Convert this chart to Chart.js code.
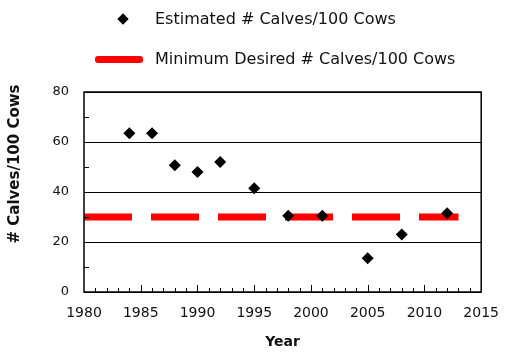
<!DOCTYPE html>
<html>
<head>
<meta charset="utf-8">
<script src="https://cdn.jsdelivr.net/npm/chart.js@4.4.1/dist/chart.umd.min.js"></script>
<style>
    html, body { margin: 0; padding: 0; background: #fff; }
    #wrap { position: relative; width: 512px; height: 352px; }
    #calvesChart { position: absolute; left: 0; top: 0; }
    .legend-item {
        position: absolute;
        left: 155px;
        font-family: "DejaVu Sans", sans-serif;
        font-size: 16px;
        line-height: 20px;
        color: #111;
        white-space: nowrap;
    }
    .diamond {
        position: absolute; left: 119px; top: 15px;
        width: 8px; height: 8px; background: #000;
        transform: rotate(45deg);
    }
    .redline {
        position: absolute; left: 95px; top: 56px;
        width: 48px; height: 7px; background: #f00; border-radius: 3px;
    }
</style>
</head>
<body>
<div id="wrap">
    <canvas id="calvesChart" width="512" height="352"></canvas>
    <div class="diamond"></div>
    <div class="legend-item" style="top: 9px;" id="lbl1"></div>
    <div class="redline"></div>
    <div class="legend-item" style="top: 49px;" id="lbl2"></div>
</div>
<script>
// survey estimates
const surveyYears = [1984, 1986, 1988, 1990, 1992, 1995, 1998, 2001, 2005, 2008, 2012];
const calvesPer100 = [63.5, 63.5, 50.7, 48, 52, 41.5, 30.5, 30.5, 13.5, 23, 31.5];

// minimum desired level
const targetYears = [1980, 2013];
const targetValue = 30;

const estimateLabel = "Estimated # Calves/100 Cows";
const targetLabel = "Minimum Desired # Calves/100 Cows";
const xTitle = "Year";
const yTitle = "# Calves/100 Cows";

document.getElementById("lbl1").textContent = estimateLabel;
document.getElementById("lbl2").textContent = targetLabel;

// box around plot, inward tick marks, rotated y title
const frameAndTicks = {
    id: "frameAndTicks",
    afterDraw(chart) {
        const { ctx, chartArea: a } = chart;
        const x = chart.scales.x;
        const y = chart.scales.y;
        ctx.save();
        ctx.strokeStyle = "#000";
        ctx.lineWidth = 1;
        ctx.beginPath();
        for (let v = x.min + 1; v < x.max; v++) {
            const px = Math.round(x.getPixelForValue(v)) + 0.5;
            const len = v % 5 === 0 ? 7 : 4;
            ctx.moveTo(px, a.bottom);
            ctx.lineTo(px, a.bottom - len);
        }
        for (let v = y.min + 10; v < y.max; v += 20) {
            const py = Math.round(y.getPixelForValue(v)) + 0.5;
            ctx.moveTo(a.left, py);
            ctx.lineTo(a.left + 5, py);
        }
        ctx.stroke();
        ctx.lineWidth = 1.5;
        ctx.strokeRect(a.left, a.top, a.right - a.left, a.bottom - a.top);

        ctx.translate(15, 164);
        ctx.rotate(-Math.PI / 2);
        ctx.font = 'bold 15px "DejaVu Sans"';
        ctx.fillStyle = "#111";
        ctx.textAlign = "center";
        ctx.textBaseline = "middle";
        ctx.fillText(yTitle, 0, 0);
        ctx.restore();
    },
};

const ctx = document.getElementById("calvesChart").getContext("2d");

new Chart(ctx, {
    type: "scatter",
    data: {
        datasets: [
            {
                label: estimateLabel,
                data: surveyYears.map((yr, i) => ({ x: yr, y: calvesPer100[i] })),
                pointStyle: "rectRot",
                pointRadius: 6,
                backgroundColor: "#000",
                borderColor: "#000",
                borderWidth: 0,
            },
            {
                type: "line",
                label: targetLabel,
                data: targetYears.map((yr) => ({ x: yr, y: targetValue })),
                borderColor: "#ff0000",
                borderWidth: 7,
                borderDash: [48, 19],
                pointRadius: 0,
                fill: false,
            },
        ],
    },
    options: {
        responsive: false,
        animation: false,
        layout: {
            padding: { top: 92, right: 23, left: 0, bottom: 0 },
        },
        scales: {
            x: {
                type: "linear",
                min: 1980,
                max: 2015,
                afterFit: (scale) => { scale.height = 60; },
                border: { display: false },
                grid: { display: false, drawTicks: false },
                ticks: {
                    stepSize: 5,
                    padding: 13,
                    color: "#111",
                    font: { family: "DejaVu Sans", size: 14 },
                    callback: (value) => String(value), // no thousands separator
                },
                title: {
                    display: true,
                    text: xTitle,
                    color: "#111",
                    font: { family: "DejaVu Sans", size: 14, weight: "bold" },
                    padding: { top: 4, bottom: 1 },
                },
            },
            y: {
                min: 0,
                max: 80,
                afterFit: (scale) => { scale.width = 84; },
                border: { display: false },
                grid: { color: "#000", lineWidth: 1, drawTicks: false },
                ticks: {
                    stepSize: 20,
                    padding: 15,
                    color: "#111",
                    font: { family: "DejaVu Sans", size: 13 },
                },
            },
        },
        plugins: {
            legend: { display: false },
            tooltip: { enabled: false },
        },
    },
    plugins: [frameAndTicks],
});
</script>
</body>
</html>
